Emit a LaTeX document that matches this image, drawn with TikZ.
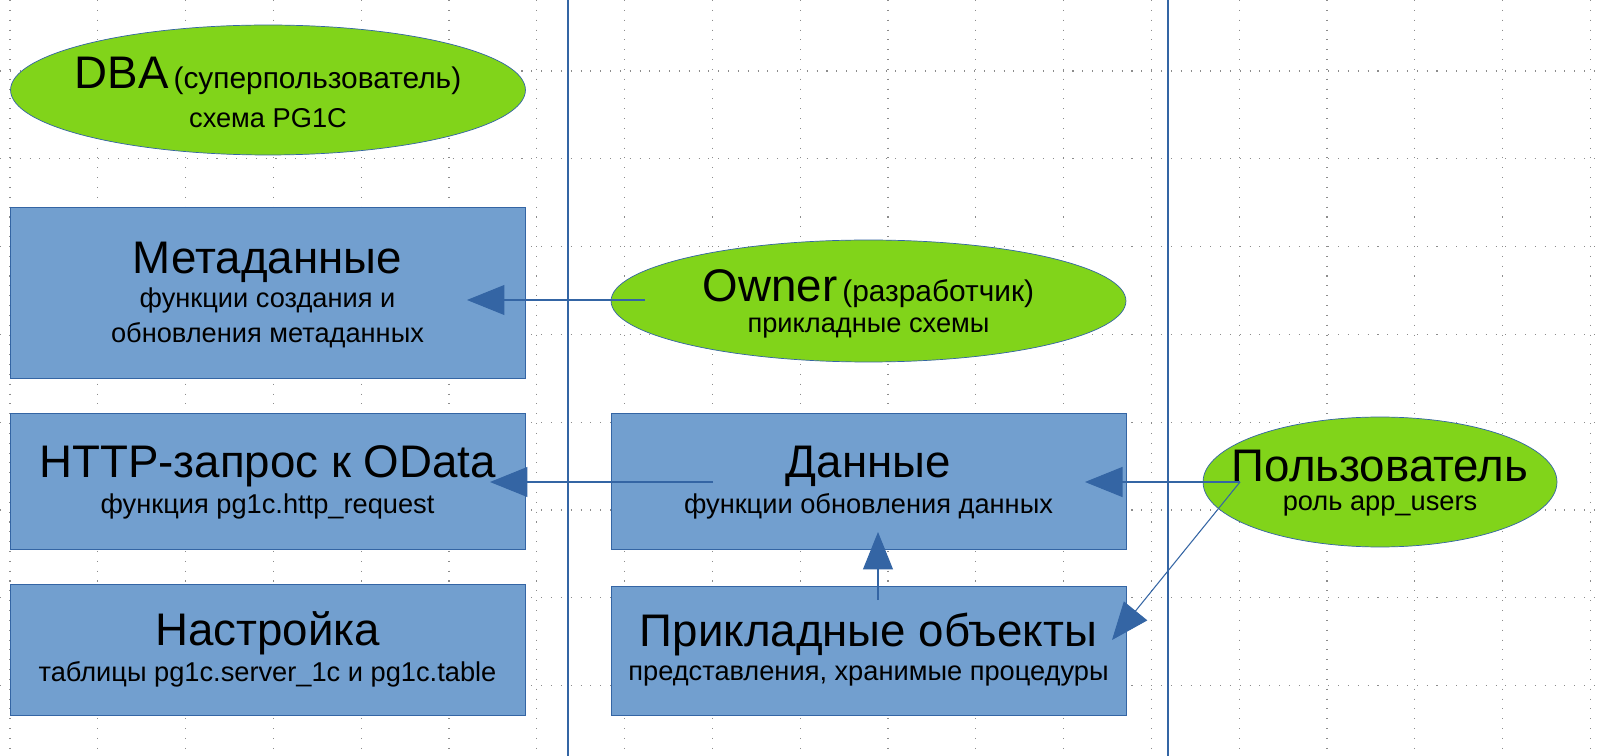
\documentclass[tikz,border=0pt]{standalone}
\usepackage{fontspec}
\setmainfont{Liberation Sans}
\usetikzlibrary{shapes.geometric,arrows.meta}
\definecolor{gfill}{HTML}{81D41A}
\definecolor{bfill}{HTML}{729FCF}
\definecolor{bline}{HTML}{3465A4}
\tikzset{
  box/.style={draw=bline,fill=bfill,minimum width=10.3cm,align=center,inner sep=0pt},
  oval/.style={draw=bline,fill=gfill,ellipse,inner sep=0pt,align=center},
  big/.style={font=\fontsize{26}{30}\selectfont},
  conn/.style={draw=bline,line width=0.6pt,-{Triangle[length=0.75cm,width=0.6cm]}},
  grid/.style={black!45,line width=0.6pt,dash pattern=on 0.6pt off 5pt},
}
\newcommand{\sub}[1]{{\fontsize{15.5}{19}\selectfont #1}}
\begin{document}
\begin{tikzpicture}[x=0.02cm,y=-0.02cm]
\useasboundingbox (0,0) rectangle (1602,756);
\fill[white] (0,0) rectangle (1602,756);
\foreach \x in {10,97.8,...,1600} \draw[grid] (\x,0) -- (\x,756);
\foreach \y in {71,158.8,...,756} \draw[grid] (0,\y) -- (1602,\y);
\draw[bline,line width=1.6pt] (568,0) -- (568,756);
\draw[bline,line width=1.6pt] (1168,0) -- (1168,756);

\node[oval,minimum width=10.3cm,minimum height=2.6cm] (dba) at (268,90) {};
\node at (268,76) {{\fontsize{26}{30}\selectfont DBA} {\fontsize{17}{20}\selectfont (суперпользователь)}};
\node at (268,118) {\sub{схема PG1C}};

\node[box,minimum height=3.42cm] (meta) at (267.5,292.5) {};
\node[big] at (267.5,262) {Метаданные};
\node[align=center] at (267.5,318) {\sub{функции создания и}\\[4pt]\sub{обновления метаданных}};

\node[box,minimum height=2.72cm] (http) at (267.5,481) {};
\node[big] at (267.5,466) {HTTP-запрос к OData};
\node at (267.5,506) {\sub{функция pg1c.http\_request}};

\node[box,minimum height=2.62cm] (nast) at (267.5,649.5) {};
\node[big] at (267.5,633) {Настройка};
\node at (267.5,674) {\sub{таблицы pg1c.server\_1c и pg1c.table}};

\node[oval,minimum width=10.3cm,minimum height=2.44cm] (own) at (868.5,301) {};
\node at (868.5,289) {{\fontsize{26}{30}\selectfont Owner} {\fontsize{17}{20}\selectfont (разработчик)}};
\node at (868.5,328) {\sub{прикладные схемы}};

\node[box,minimum height=2.72cm] (dan) at (868.5,481) {};
\node[big] at (868.5,466) {Данные};
\node at (868.5,506) {\sub{функции обновления данных}};

\node[box,minimum height=2.58cm] (prik) at (868.5,650.5) {};
\node[big] at (868.5,634) {Прикладные объекты};
\node at (868.5,676) {\sub{представления, хранимые процедуры}};

\node[oval,minimum width=7.08cm,minimum height=2.6cm] (user) at (1380,482) {};
\node[big] at (1380,466) {Пользователь};
\node at (1380,506) {\sub{роль app\_users}};

\coordinate (o1) at (645,300); \coordinate (m1) at (467,300);
\coordinate (d1) at (713,482); \coordinate (h1) at (490,482);
\coordinate (u1) at (1240,482); \coordinate (d2) at (1085,482);
\coordinate (p2) at (1112,640);
\coordinate (p1) at (878,600); \coordinate (d3) at (878,532);
\draw[conn] (o1) -- (m1);
\draw[conn] (d1) -- (h1);
\draw[conn] (u1) -- (d2);
\draw[conn] (u1) -- (p2);
\draw[conn] (p1) -- (d3);
\end{tikzpicture}
\end{document}
